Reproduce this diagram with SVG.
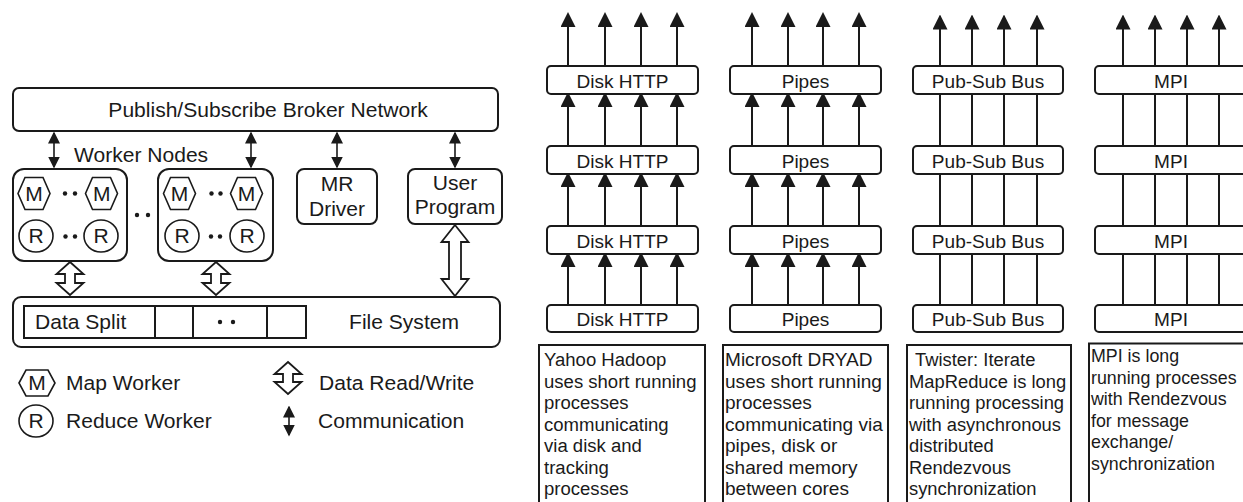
<svg xmlns="http://www.w3.org/2000/svg" width="1243" height="502" viewBox="0 0 1243 502">
<style>
text{font-family:"Liberation Sans",Arial,sans-serif;fill:#1a1a1a}
.lt{font-size:19.5px}
.rt{font-size:18px}
.box{fill:#fff;stroke:#1a1a1a;stroke-width:2}
.ln{stroke:#1a1a1a;stroke-width:2;fill:none}
.thin{stroke:#1a1a1a;stroke-width:1.6;fill:none}
.hol{fill:#fff;stroke:#1a1a1a;stroke-width:1.8;stroke-linejoin:miter}
.dot{fill:#1a1a1a}
</style>
<defs>
<marker id="ah" viewBox="0 0 15 15" markerWidth="15" markerHeight="15" refX="13" refY="7.5" orient="auto" markerUnits="userSpaceOnUse"><path d="M0,0 L15,7.5 L0,15 z" fill="#1a1a1a"/></marker>
<marker id="sm" viewBox="0 0 12 12" markerWidth="12" markerHeight="12" refX="10.5" refY="6" orient="auto-start-reverse" markerUnits="userSpaceOnUse"><path d="M0,0 L12,6 L0,12 z" fill="#1a1a1a"/></marker>
</defs>

<!-- LEFT PANEL -->
<g id="broker">
<rect class="box" x="13" y="88" width="485" height="43" rx="6"/>
<text class="lt" text-anchor="middle" transform="translate(268,117) scale(1.08,1)">Publish/Subscribe Broker Network</text>
</g>
<g id="worker-label"><text class="lt" transform="translate(74,162) scale(1.08,1)">Worker Nodes</text></g>

<g id="worker1">
<rect class="box" x="13" y="169" width="114" height="92" rx="11"/>
<polygon class="thin" points="18,193.5 25,177.5 43,177.5 50,193.5 43,209.5 25,209.5"/>
<text class="lt" text-anchor="middle" transform="translate(34,200.5) scale(1.08,1)">M</text>
<polygon class="thin" points="85.5,193.5 92.5,177.5 110.5,177.5 117.5,193.5 110.5,209.5 92.5,209.5"/>
<text class="lt" text-anchor="middle" transform="translate(101.7,200.5) scale(1.08,1)">M</text>
<circle class="dot" cx="65" cy="193.5" r="2.2"/><circle class="dot" cx="75" cy="193.5" r="2.2"/>
<ellipse class="thin" cx="36" cy="236" rx="17" ry="16"/>
<text class="lt" text-anchor="middle" transform="translate(36,243) scale(1.08,1)">R</text>
<ellipse class="thin" cx="101" cy="236" rx="17" ry="16"/>
<text class="lt" text-anchor="middle" transform="translate(101,243) scale(1.08,1)">R</text>
<circle class="dot" cx="65.5" cy="236.5" r="2.2"/><circle class="dot" cx="75" cy="236.5" r="2.2"/>
</g>

<g id="worker-gap"><circle class="dot" cx="137" cy="215" r="2.2"/><circle class="dot" cx="148" cy="215" r="2.2"/></g>

<g id="worker2">
<rect class="box" x="158" y="169" width="115" height="92" rx="11"/>
<polygon class="thin" points="163.5,193.5 170.5,177.5 188.5,177.5 195.5,193.5 188.5,209.5 170.5,209.5"/>
<text class="lt" text-anchor="middle" transform="translate(179.5,200.5) scale(1.08,1)">M</text>
<polygon class="thin" points="230.5,193.5 237.5,177.5 255.5,177.5 262.5,193.5 255.5,209.5 237.5,209.5"/>
<text class="lt" text-anchor="middle" transform="translate(246.5,200.5) scale(1.08,1)">M</text>
<circle class="dot" cx="211.5" cy="193.5" r="2.2"/><circle class="dot" cx="220.5" cy="193.5" r="2.2"/>
<ellipse class="thin" cx="182" cy="236" rx="17" ry="16"/>
<text class="lt" text-anchor="middle" transform="translate(182,243) scale(1.08,1)">R</text>
<ellipse class="thin" cx="247" cy="236" rx="17" ry="16"/>
<text class="lt" text-anchor="middle" transform="translate(247,243) scale(1.08,1)">R</text>
<circle class="dot" cx="211" cy="236.5" r="2.2"/><circle class="dot" cx="220" cy="236.5" r="2.2"/>
</g>

<g id="mr-driver">
<rect class="box" x="297" y="169" width="80" height="55" rx="7"/>
<text class="lt" text-anchor="middle" transform="translate(337,191) scale(1.08,1)">MR</text>
<text class="lt" text-anchor="middle" transform="translate(337,216) scale(1.08,1)">Driver</text>
</g>

<g id="user-program">
<rect class="box" x="408" y="169" width="94" height="55" rx="7"/>
<text class="lt" text-anchor="middle" transform="translate(455,190) scale(1.08,1)">User</text>
<text class="lt" text-anchor="middle" transform="translate(455,214) scale(1.08,1)">Program</text>
</g>

<g id="file-system">
<rect class="box" x="13" y="297" width="487" height="50" rx="8"/>
<rect class="box" x="24" y="306" width="282" height="32"/>
<line class="ln" x1="155" y1="306" x2="155" y2="338"/>
<line class="ln" x1="193" y1="306" x2="193" y2="338"/>
<line class="ln" x1="267" y1="306" x2="267" y2="338"/>
<text class="lt" transform="translate(35,329) scale(1.08,1)">Data Split</text>
<circle class="dot" cx="220" cy="322" r="2.2"/><circle class="dot" cx="233" cy="322" r="2.2"/>
<text class="lt" text-anchor="middle" transform="translate(404,329) scale(1.08,1)">File System</text>
</g>

<g id="left-connectors">
<line class="thin" x1="54" y1="133" x2="54" y2="167" marker-start="url(#sm)" marker-end="url(#sm)"/>
<line class="thin" x1="251" y1="133" x2="251" y2="167" marker-start="url(#sm)" marker-end="url(#sm)"/>
<line class="thin" x1="337" y1="133" x2="337" y2="167" marker-start="url(#sm)" marker-end="url(#sm)"/>
<line class="thin" x1="455" y1="133" x2="455" y2="167" marker-start="url(#sm)" marker-end="url(#sm)"/>
<polygon class="hol" points="70,262 83.5,274 75,274 75,283 83.5,283 70,295 56.5,283 65,283 65,274 56.5,274"/>
<polygon class="hol" points="216,262 229.5,274 221,274 221,283 229.5,283 216,295 202.5,283 211,283 211,274 202.5,274"/>
<polygon class="hol" points="455,225 468.5,242 461,242 461,279 468.5,279 455,296 441.5,279 449,279 449,242 441.5,242"/>
</g>

<g id="legend">
<polygon class="thin" points="19,383 26,370 48,370 55,383 48,396 26,396"/>
<text class="lt" text-anchor="middle" transform="translate(37,390) scale(1.08,1)">M</text>
<text class="lt" transform="translate(66,390) scale(1.08,1)">Map Worker</text>
<ellipse class="thin" cx="36" cy="421" rx="17" ry="16"/>
<text class="lt" text-anchor="middle" transform="translate(36,428) scale(1.08,1)">R</text>
<text class="lt" transform="translate(66,428) scale(1.08,1)">Reduce Worker</text>
<polygon class="hol" points="288,362 301.5,374 293,374 293,382 301.5,382 288,394 274.5,382 283,382 283,374 274.5,374"/>
<text class="lt" transform="translate(319,390) scale(1.08,1)">Data Read/Write</text>
<line class="thin" x1="289" y1="407" x2="289" y2="435" marker-start="url(#sm)" marker-end="url(#sm)"/>
<text class="lt" transform="translate(318,428) scale(1.08,1)">Communication</text>
</g>

<!-- RIGHT PANEL -->
<g id="right-connectors">
<g class="ln" marker-end="url(#ah)">
<line x1="568" y1="66" x2="568" y2="14"/><line x1="605" y1="66" x2="605" y2="14"/><line x1="641" y1="66" x2="641" y2="14"/><line x1="677" y1="66" x2="677" y2="14"/>
<line x1="568" y1="146" x2="568" y2="94"/><line x1="605" y1="146" x2="605" y2="94"/><line x1="641" y1="146" x2="641" y2="94"/><line x1="677" y1="146" x2="677" y2="94"/>
<line x1="568" y1="226" x2="568" y2="174"/><line x1="605" y1="226" x2="605" y2="174"/><line x1="641" y1="226" x2="641" y2="174"/><line x1="677" y1="226" x2="677" y2="174"/>
<line x1="568" y1="305" x2="568" y2="254"/><line x1="605" y1="305" x2="605" y2="254"/><line x1="641" y1="305" x2="641" y2="254"/><line x1="677" y1="305" x2="677" y2="254"/>
<line x1="752" y1="66" x2="752" y2="14"/><line x1="788" y1="66" x2="788" y2="14"/><line x1="823" y1="66" x2="823" y2="14"/><line x1="859" y1="66" x2="859" y2="14"/>
<line x1="752" y1="146" x2="752" y2="94"/><line x1="788" y1="146" x2="788" y2="94"/><line x1="823" y1="146" x2="823" y2="94"/><line x1="859" y1="146" x2="859" y2="94"/>
<line x1="752" y1="226" x2="752" y2="174"/><line x1="788" y1="226" x2="788" y2="174"/><line x1="823" y1="226" x2="823" y2="174"/><line x1="859" y1="226" x2="859" y2="174"/>
<line x1="752" y1="305" x2="752" y2="254"/><line x1="788" y1="305" x2="788" y2="254"/><line x1="823" y1="305" x2="823" y2="254"/><line x1="859" y1="305" x2="859" y2="254"/>
<line x1="940" y1="66" x2="940" y2="16.5"/><line x1="972" y1="66" x2="972" y2="16.5"/><line x1="1004" y1="66" x2="1004" y2="16.5"/><line x1="1037" y1="66" x2="1037" y2="16.5"/>
<line x1="1123" y1="66" x2="1123" y2="16.5"/><line x1="1155" y1="66" x2="1155" y2="16.5"/><line x1="1187" y1="66" x2="1187" y2="16.5"/><line x1="1219" y1="66" x2="1219" y2="16.5"/>
</g>
<g class="ln">
<line x1="940" y1="94" x2="940" y2="305"/><line x1="972" y1="94" x2="972" y2="305"/><line x1="1004" y1="94" x2="1004" y2="305"/><line x1="1037" y1="94" x2="1037" y2="305"/>
<line x1="1123" y1="94" x2="1123" y2="305"/><line x1="1155" y1="94" x2="1155" y2="305"/><line x1="1187" y1="94" x2="1187" y2="305"/><line x1="1219" y1="94" x2="1219" y2="305"/>
</g>
</g>

<g id="col1">
<rect class="box" x="547" y="66" width="151" height="28" rx="4"/><text class="rt" text-anchor="middle" transform="translate(622.5,87.5) scale(1.06,1)">Disk HTTP</text>
<rect class="box" x="547" y="146" width="151" height="28" rx="4"/><text class="rt" text-anchor="middle" transform="translate(622.5,167.5) scale(1.06,1)">Disk HTTP</text>
<rect class="box" x="547" y="226" width="151" height="28" rx="4"/><text class="rt" text-anchor="middle" transform="translate(622.5,247.5) scale(1.06,1)">Disk HTTP</text>
<rect class="box" x="547" y="305" width="151" height="27" rx="4"/><text class="rt" text-anchor="middle" transform="translate(622.5,326) scale(1.06,1)">Disk HTTP</text>
<rect class="box" x="539" y="345" width="166" height="165"/>
<text class="rt" transform="translate(544,366) scale(1.03,1)">Yahoo Hadoop</text>
<text class="rt" transform="translate(544,387.5) scale(1.03,1)">uses short running</text>
<text class="rt" transform="translate(544,409) scale(1.03,1)">processes</text>
<text class="rt" transform="translate(544,430.5) scale(1.03,1)">communicating</text>
<text class="rt" transform="translate(544,452) scale(1.03,1)">via disk and</text>
<text class="rt" transform="translate(544,473.5) scale(1.03,1)">tracking</text>
<text class="rt" transform="translate(544,495) scale(1.03,1)">processes</text>
</g>

<g id="col2">
<rect class="box" x="730" y="66" width="151" height="28" rx="4"/><text class="rt" text-anchor="middle" transform="translate(805.5,87.5) scale(1.06,1)">Pipes</text>
<rect class="box" x="730" y="146" width="151" height="28" rx="4"/><text class="rt" text-anchor="middle" transform="translate(805.5,167.5) scale(1.06,1)">Pipes</text>
<rect class="box" x="730" y="226" width="151" height="28" rx="4"/><text class="rt" text-anchor="middle" transform="translate(805.5,247.5) scale(1.06,1)">Pipes</text>
<rect class="box" x="730" y="305" width="151" height="27" rx="4"/><text class="rt" text-anchor="middle" transform="translate(805.5,326) scale(1.06,1)">Pipes</text>
<rect class="box" x="723" y="345" width="165" height="165"/>
<text class="rt" transform="translate(725,366) scale(1.06,1)">Microsoft DRYAD</text>
<text class="rt" transform="translate(725,387.5) scale(1.06,1)">uses short running</text>
<text class="rt" transform="translate(725,409) scale(1.06,1)">processes</text>
<text class="rt" transform="translate(725,430.5) scale(1.06,1)">communicating via</text>
<text class="rt" transform="translate(725,452) scale(1.06,1)">pipes, disk or</text>
<text class="rt" transform="translate(725,473.5) scale(1.06,1)">shared memory</text>
<text class="rt" transform="translate(725,495) scale(1.06,1)">between cores</text>
</g>

<g id="col3">
<rect class="box" x="913" y="66" width="150" height="28" rx="4"/><text class="rt" text-anchor="middle" transform="translate(988,87.5) scale(1.06,1)">Pub-Sub Bus</text>
<rect class="box" x="913" y="146" width="150" height="28" rx="4"/><text class="rt" text-anchor="middle" transform="translate(988,167.5) scale(1.06,1)">Pub-Sub Bus</text>
<rect class="box" x="913" y="226" width="150" height="28" rx="4"/><text class="rt" text-anchor="middle" transform="translate(988,247.5) scale(1.06,1)">Pub-Sub Bus</text>
<rect class="box" x="913" y="305" width="150" height="27" rx="4"/><text class="rt" text-anchor="middle" transform="translate(988,326) scale(1.06,1)">Pub-Sub Bus</text>
<rect class="box" x="907" y="345" width="164" height="165"/>
<text class="rt" transform="translate(915,366) scale(1.02,1)">Twister: Iterate</text>
<text class="rt" transform="translate(909,387.5) scale(1.02,1)">MapReduce is long</text>
<text class="rt" transform="translate(909,409) scale(1.02,1)">running processing</text>
<text class="rt" transform="translate(909,430.5) scale(1.02,1)">with asynchronous</text>
<text class="rt" transform="translate(909,452) scale(1.02,1)">distributed</text>
<text class="rt" transform="translate(909,473.5) scale(1.02,1)">Rendezvous</text>
<text class="rt" transform="translate(909,495) scale(1.02,1)">synchronization</text>
</g>

<g id="col4">
<rect class="box" x="1095" y="66" width="160" height="28" rx="4"/><text class="rt" text-anchor="middle" transform="translate(1171,87.5) scale(1.06,1)">MPI</text>
<rect class="box" x="1095" y="146" width="160" height="28" rx="4"/><text class="rt" text-anchor="middle" transform="translate(1171,167.5) scale(1.06,1)">MPI</text>
<rect class="box" x="1095" y="226" width="160" height="28" rx="4"/><text class="rt" text-anchor="middle" transform="translate(1171,247.5) scale(1.06,1)">MPI</text>
<rect class="box" x="1095" y="305" width="160" height="27" rx="4"/><text class="rt" text-anchor="middle" transform="translate(1171,326) scale(1.06,1)">MPI</text>
<rect class="box" x="1089" y="343.5" width="170" height="170"/>
<text class="rt" transform="translate(1091,362) scale(0.99,1)">MPI is long</text>
<text class="rt" transform="translate(1091,383.5) scale(0.99,1)">running processes</text>
<text class="rt" transform="translate(1091,405) scale(0.99,1)">with Rendezvous</text>
<text class="rt" transform="translate(1091,426.5) scale(0.99,1)">for message</text>
<text class="rt" transform="translate(1091,448) scale(0.99,1)">exchange/</text>
<text class="rt" transform="translate(1091,469.5) scale(0.99,1)">synchronization</text>
</g>
</svg>
